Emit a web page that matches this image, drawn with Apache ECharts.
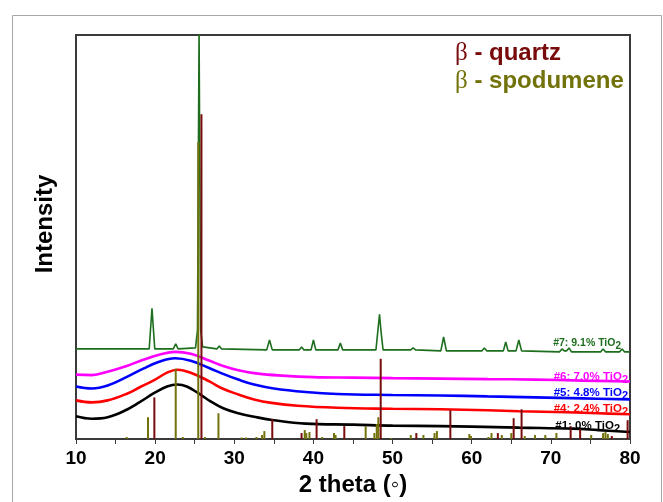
<!DOCTYPE html>
<html>
<head>
<meta charset="utf-8">
<script src="https://cdn.jsdelivr.net/npm/echarts@6/dist/echarts.min.js"></script>
<style>
  html, body { margin: 0; padding: 0; background: #fff; }
  #chart { width: 663px; height: 502px; }
</style>
</head>
<body>
<div id="chart"></div>
<script>
// XRD patterns: [2theta, intensity (a.u.)]
const s1_0pct = [
  [10, 23], [12, 20.5], [14, 22], [16, 28], [18, 37], [20, 47], [21.5, 53], [22.8, 55],
  [24, 53], [25.5, 46], [27, 38], [28.6, 31], [30.5, 26], [32.5, 22.5], [35, 19],
  [39, 15.5], [45, 14.5], [50, 13.5], [56, 13], [60, 12.5], [66, 11.5], [72.8, 10.5],
  [76, 9], [80, 7]
];
const s4_24pct = [
  [10, 39], [12, 37], [14, 39], [16.5, 46], [18, 52], [20, 60], [21.5, 67], [22.8, 70],
  [24.5, 67], [26.9, 58], [28.5, 51], [30.5, 45], [32.5, 40], [34.7, 36.5], [38, 33.5],
  [43, 31.5], [50, 30.5], [56, 30], [62, 29], [66, 28], [72, 27], [76, 26], [80, 25]
];
const s5_48pct = [
  [10, 53], [12, 51], [14, 54], [16.5, 63], [18.5, 71], [20.5, 78], [22.5, 81.5],
  [24.5, 79], [26.9, 71.5], [28.5, 66], [30.5, 60], [32.5, 55], [35, 51], [39, 47.5],
  [43, 45.5], [50, 44.5], [56, 44], [62, 43], [68, 42], [74, 41], [80, 40]
];
const s6_70pct = [
  [10, 65], [12, 64.5], [14, 68], [16.5, 74], [18.5, 80], [20.5, 85], [22.5, 88],
  [24.5, 86], [26.9, 79], [28.5, 74], [30.5, 69.5], [33, 66], [36, 64], [40, 62.5],
  [45, 62], [50, 61.5], [56, 61], [62, 60.5], [68, 60], [74, 59], [80, 58]
];
const s7_91pct = [
  [10, 91], [15, 91], [19.25, 91], [19.6, 132], [19.95, 91], [22.3, 91], [22.6, 96],
  [22.9, 91], [25.1, 92], [25.35, 110], [25.55, 415], [25.75, 110], [26.0, 93],
  [27.8, 91], [28.1, 94], [28.4, 91], [34.1, 90], [34.45, 100], [34.8, 90],
  [38.2, 90], [38.5, 93], [38.8, 90], [39.7, 90], [40.0, 100], [40.3, 90],
  [43.1, 90], [43.4, 97], [43.7, 90], [47.9, 90], [48.15, 110], [48.35, 126],
  [48.55, 108], [48.8, 90], [52.3, 90], [52.6, 92], [52.9, 90], [56.1, 89],
  [56.45, 103], [56.8, 89], [61.3, 89], [61.6, 92], [61.9, 89], [64.0, 89],
  [64.3, 98], [64.6, 89], [65.6, 89], [65.95, 100], [66.3, 89], [71.1, 88],
  [71.4, 91], [71.7, 89], [72.0, 89], [72.3, 92], [72.6, 88], [76.3, 88],
  [76.6, 91], [76.9, 88], [78.7, 88], [79.0, 91], [79.3, 88], [80, 88]
];

// Reference line patterns: [2theta, relative height]
const quartzLines = [
  [19.9, 42], [25.85, 328], [34.8, 20], [38.5, 6], [40.4, 20], [43.9, 13], [48.5, 81],
  [53.0, 6], [57.3, 29], [63.3, 6], [65.3, 21], [66.3, 30], [72.5, 13], [73.7, 10],
  [77.7, 3], [79.7, 19]
];
const spodumeneLines = [
  [16.4, 2], [19.1, 22], [22.6, 71], [23.5, 2], [25.45, 300], [26.3, 2], [28.0, 26],
  [30.9, 1.5], [31.5, 1.5], [32.8, 2], [33.5, 4], [33.8, 8], [38.9, 9], [39.1, 6],
  [39.5, 7], [41.1, 2], [42.6, 6], [42.8, 4], [46.6, 13], [47.7, 6], [48.0, 15],
  [48.2, 22], [49.8, 1], [52.3, 4], [53.9, 4], [55.3, 6], [55.6, 8], [59.7, 5],
  [59.9, 3], [62.1, 2], [62.5, 6], [63.8, 4], [65.0, 6], [66.7, 3], [68.0, 4],
  [69.3, 4], [70.7, 6], [75.1, 4], [76.6, 6], [76.9, 7], [77.2, 5]
];

const xTicks = { min: 10, max: 80, interval: 10 };
const sampleLabels = ['#7: 9.1% TiO', '#6: 7.0% TiO', '#5: 4.8% TiO', '#4: 2.4% TiO', '#1: 0% TiO'];
const legendNames = ['quartz', 'spodumene'];

const COL = {
  s1: '#000000', s4: '#ff0000', s5: '#0000ff', s6: '#ff00ff', s7: '#1d6e1d',
  quartz: '#780c0c', spod: '#72720a'
};
const SANS = '"Liberation Sans", Arial, sans-serif';

function sticks(name, data, color) {
  return {
    name, type: 'custom', data, z: 5, clip: true,
    renderItem(params, api) {
      const x = api.value(0), y = api.value(1);
      const p0 = api.coord([x, 0]);
      const p1 = api.coord([x, y]);
      return {
        type: 'line',
        shape: { x1: p0[0], y1: p0[1], x2: p1[0], y2: p1[1] },
        style: { stroke: color, lineWidth: 2 }
      };
    }
  };
}

function curve(name, data, color, width, smooth) {
  return {
    name, type: 'line', data, showSymbol: false, smooth,
    lineStyle: { color, width }, z: 3, clip: true
  };
}

function sampleText(text, color, x, y, size) {
  return {
    type: 'text', x, y, z: 10,
    style: {
      text: '{a|' + text + '}{s|2}',
      align: 'right', verticalAlign: 'middle',
      rich: {
        a: { fill: color, fontSize: size, fontWeight: 'bold', fontFamily: SANS, lineHeight: size + 6, verticalAlign: 'middle' },
        s: { fill: color, fontSize: size - 0.5, fontWeight: 'bold', fontFamily: SANS, lineHeight: size + 6, verticalAlign: 'bottom' }
      }
    }
  };
}

function legendText(name, color, x, y) {
  return {
    type: 'text', x, y, z: 10,
    style: {
      text: '{b|\u03b2}{t| - ' + name + '}',
      verticalAlign: 'middle',
      rich: {
        b: { fill: color, fontSize: 25, fontFamily: '"Liberation Serif", "Times New Roman", serif' },
        t: { fill: color, fontSize: 24, fontWeight: 'bold', fontFamily: SANS }
      }
    }
  };
}

const chart = echarts.init(document.getElementById('chart'));
chart.setOption({
  animation: false,
  backgroundColor: '#fff',
  grid: {
    left: 76, right: 33, top: 35, bottom: 59,
    show: true, borderColor: '#3a3a3a', borderWidth: 2, backgroundColor: 'transparent'
  },
  xAxis: {
    type: 'value', min: xTicks.min, max: xTicks.max, interval: xTicks.interval,
    name: '2 theta (\u25e6)', nameLocation: 'middle', nameGap: 34,
    nameTextStyle: { fontSize: 24, fontWeight: 'bold', color: '#000', fontFamily: SANS },
    axisLine: { show: true, lineStyle: { color: '#3a3a3a', width: 2 } },
    axisTick: { show: true, length: 5, lineStyle: { color: '#3a3a3a', width: 1 } },
    minorTick: { show: true, splitNumber: 2, length: 5, lineStyle: { color: '#3a3a3a', width: 1 } },
    axisLabel: { fontSize: 19, fontWeight: 'bold', color: '#000', fontFamily: SANS, margin: 10 },
    splitLine: { show: false }
  },
  yAxis: {
    type: 'value', min: 0, max: 408,
    axisLine: { show: true, lineStyle: { color: '#3a3a3a', width: 2 } },
    axisTick: { show: false }, axisLabel: { show: false }, splitLine: { show: false }
  },
  graphic: [
    {
      type: 'rect', z: 0, silent: true,
      shape: { x: 12.5, y: 15.5, width: 649, height: 500 },
      style: { fill: 'none', stroke: '#a8a8a8', lineWidth: 1 }
    },
    {
      type: 'text', x: 45, y: 224, rotation: Math.PI / 2, z: 10,
      style: {
        text: 'Intensity', align: 'center', verticalAlign: 'middle',
        fill: '#000', fontSize: 24, fontWeight: 'bold', fontFamily: SANS
      }
    },
    legendText(legendNames[0], COL.quartz, 455, 53),
    legendText(legendNames[1], COL.spod, 455, 81),
    sampleText(sampleLabels[0], COL.s7, 621, 343, 10.5),
    sampleText(sampleLabels[1], COL.s6, 628, 377, 11.5),
    sampleText(sampleLabels[2], COL.s5, 628, 393, 11.5),
    sampleText(sampleLabels[3], COL.s4, 628, 409, 11.5),
    sampleText(sampleLabels[4], COL.s1, 620, 426, 11.5)
  ],
  series: [
    curve('#1', s1_0pct, COL.s1, 2.6, 0.4),
    curve('#4', s4_24pct, COL.s4, 2.6, 0.4),
    curve('#5', s5_48pct, COL.s5, 2.6, 0.4),
    curve('#6', s6_70pct, COL.s6, 2.6, 0.4),
    curve('#7', s7_91pct, COL.s7, 1.6, false),
    sticks('spodumene', spodumeneLines, COL.spod),
    sticks('quartz', quartzLines, COL.quartz)
  ]
});
</script>
</body>
</html>
